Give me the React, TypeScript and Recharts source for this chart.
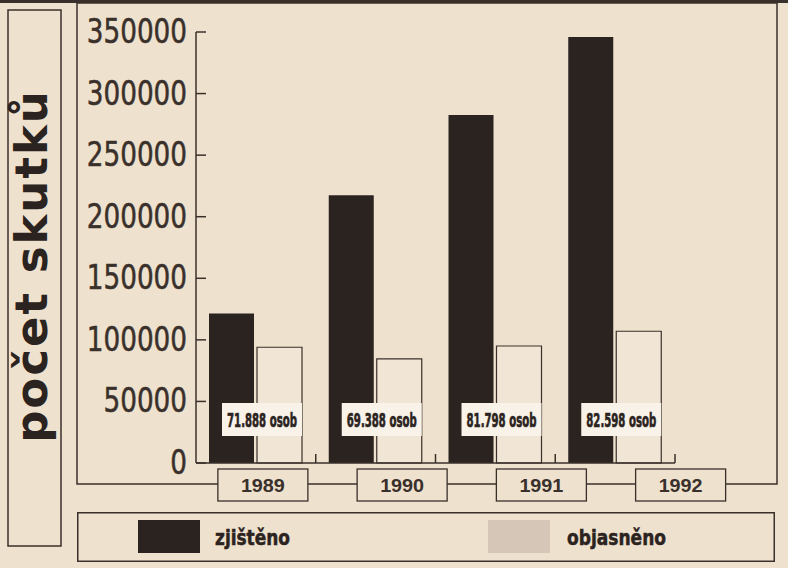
import React from 'react';
import { BarChart, Bar, XAxis, YAxis, Legend, LabelList } from 'recharts';

const years = ['1989', '1990', '1991', '1992'];
const zjisteno = [121500, 217500, 282500, 346000];
const objasneno = [94000, 84500, 95000, 107000];
const osobLabels = ['71.888 osob', '69.388 osob', '81.798 osob', '82.598 osob'];
const yTicks = [0, 50000, 100000, 150000, 200000, 250000, 300000, 350000];
const seriesNames = ['zjištěno', 'objasněno'];
const axisTitle = 'počet skutků';

const data = years.map((y, i) => ({
  year: y,
  zjisteno: zjisteno[i],
  objasneno: objasneno[i],
  label: osobLabels[i],
}));

const CHART_W = 788;
const MARGIN = { top: 32, right: 113, bottom: 65, left: 76 };
const Y_W = 120;
const BAND = (CHART_W - MARGIN.right - MARGIN.left - Y_W) / years.length;

const BG = '#eee1cd';
const INK = '#3a302b';
const DARK = '#2b2320';
const LIGHT = '#f1e6d5';
const LIGHT_SWATCH = '#d5c6b8';
const NARROW = "'Liberation Sans Narrow', 'DejaVu Sans Condensed', 'Liberation Sans', sans-serif";

const YTick = (props: any) => {
  const { x, y, payload } = props;
  const s = String(payload.value);
  return (
    <g>
      <line x1={x + 9} y1={y} x2={x + 19} y2={y} stroke={INK} strokeWidth={1.5} />
      <text x={x} y={y + 11} textAnchor="end" fontFamily={NARROW} fontSize={34} fill={INK}
        stroke={INK} strokeWidth={0.5} textLength={s.length * 16.7} lengthAdjust="spacingAndGlyphs">
        {s}
      </text>
    </g>
  );
};

const YearTick = (props: any) => {
  const { x, y, payload, index } = props;
  const cx = x + 7 + index * 19.5;
  const edge = x + BAND / 2;
  return (
    <g>
      <line x1={edge} y1={y} x2={edge} y2={y - 9} stroke={INK} strokeWidth={1.5} />
      <rect x={cx - 45} y={y + 6} width={90} height={32} fill={BG} stroke={INK} strokeWidth={1.3} />
      <text x={cx} y={y + 29} textAnchor="middle" fontFamily="'Liberation Sans', Arial, sans-serif"
        fontWeight="bold" fontSize={18} fill={INK} textLength={44} lengthAdjust="spacingAndGlyphs">
        {payload.value}
      </text>
    </g>
  );
};

const OsobLabel = (props: any) => {
  const { x, y, height, value } = props;
  const bottom = y + height;
  const bx = x - 35;
  return (
    <g>
      <rect x={bx} y={bottom - 60} width={80} height={33} fill="#f8f2e9" />
      <text x={bx + 40} y={bottom - 36} textAnchor="middle" fontFamily={NARROW} fontWeight="bold"
        fontSize={19} fill={DARK} stroke={DARK} strokeWidth={0.6} textLength={70} lengthAdjust="spacingAndGlyphs">
        {value}
      </text>
    </g>
  );
};

const LegendBox = (props: any) => {
  const payload = props.payload || [];
  const pos = [
    { sx: 61, tx: 138, tl: 75 },
    { sx: 411, tx: 490, tl: 99 },
  ];
  const items = seriesNames.map((n) => payload.find((p: any) => p.value === n)).filter(Boolean);
  return (
    <svg width={698} height={50} style={{ display: 'block' }}>
      <rect x={0.75} y={0.75} width={696.5} height={48.5} fill="none" stroke={INK} strokeWidth={1.5} />
      {items.map((p: any, i: number) => (
        <g key={i}>
          <rect x={pos[i].sx} y={8} width={62} height={33}
            fill={i === 0 ? DARK : LIGHT_SWATCH} />
          <text x={pos[i].tx} y={33} fontFamily={NARROW} fontWeight="bold" fontSize={22} fill={DARK}
            stroke={DARK} strokeWidth={0.5} textLength={pos[i].tl} lengthAdjust="spacingAndGlyphs">
            {p.value}
          </text>
        </g>
      ))}
    </svg>
  );
};

export default function App() {
  return (
    <div style={{ position: 'fixed', left: 0, top: 0, width: 788, height: 568, background: BG, overflow: 'hidden' }}>
      <svg width={788} height={568} style={{ position: 'absolute', left: 0, top: 0 }}>
        <line x1={0} y1={1.5} x2={788} y2={1.5} stroke={INK} strokeWidth={3} />
        <rect x={8} y={10} width={53} height={536} fill="none" stroke={INK} strokeWidth={1.5} />
        <text transform="translate(47,266) rotate(-90)" textAnchor="middle"
          fontFamily="'DejaVu Sans', sans-serif" fontWeight="bold" fontSize={45} fill={DARK}
          letterSpacing={2}>
          {axisTitle}
        </text>
        <rect x={77} y={3} width={700} height={481} fill="none" stroke={INK} strokeWidth={1.5} />
      </svg>
      <div style={{ position: 'absolute', left: 0, top: 0 }}>
        <BarChart width={CHART_W} height={568} data={data} margin={MARGIN} barGap={3} barSize={45}>
          <XAxis dataKey="year" height={40} axisLine={{ stroke: INK, strokeWidth: 1.5 }}
            tickLine={false} tickSize={0} tickMargin={0} tick={<YearTick />} interval={0} />
          <YAxis width={Y_W} domain={[0, 350000]} ticks={yTicks} interval={0}
            axisLine={{ stroke: INK, strokeWidth: 1.5 }} tickLine={false}
            tickSize={0} tickMargin={9} tick={<YTick />} />
          <Legend layout="vertical" align="center" verticalAlign="middle" content={<LegendBox />}
            wrapperStyle={{ left: 77, top: 512, width: 698, height: 50 }} />
          <Bar dataKey="zjisteno" name={seriesNames[0]} fill={DARK} isAnimationActive={false} />
          <Bar dataKey="objasneno" name={seriesNames[1]} fill={LIGHT} stroke={INK}
            strokeWidth={1.2} isAnimationActive={false}>
            <LabelList dataKey="label" content={<OsobLabel />} />
          </Bar>
        </BarChart>
      </div>
    </div>
  );
}
